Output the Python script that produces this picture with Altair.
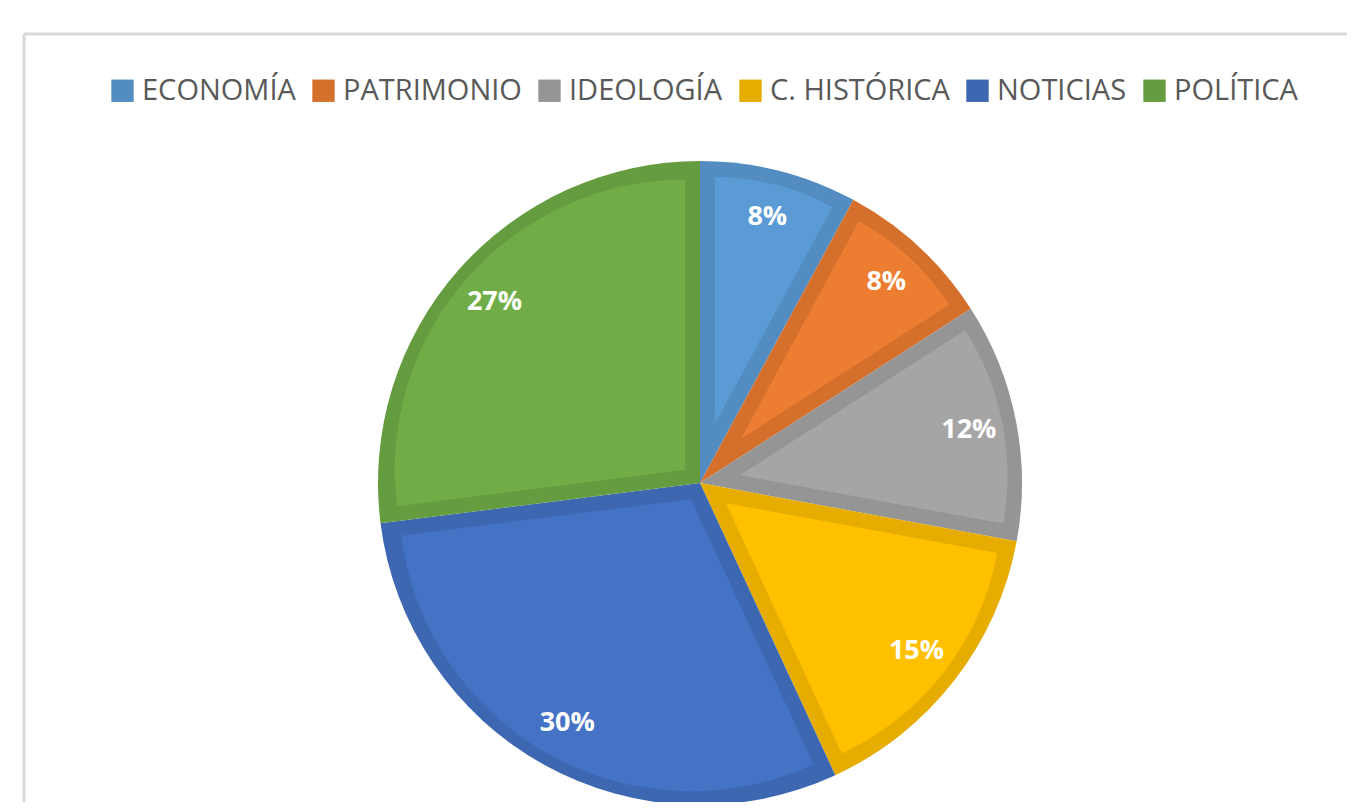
import math
import altair as alt
import pandas as pd

# ---- data ----
categories = ["ECONOMÍA", "PATRIMONIO", "IDEOLOGÍA", "C. HISTÓRICA", "NOTICIAS", "POLÍTICA"]
values = [7.9, 8.0, 12.0, 15.2, 29.9, 27.0]
fill_colors = ["#5B9BD5", "#ED7D31", "#A5A5A5", "#FFC000", "#4472C4", "#70AD47"]
border_colors = ["#528CC0", "#D5702C", "#959595", "#E6AD00", "#3D67B0", "#659C40"]

# ---- layout constants ----
W_CH, H_CH = 1339, 794
CX, CY = 692, 475
R = 322
BW = 15
TWO_PI = 2 * math.pi

df = pd.DataFrame({
    "cat": categories,
    "value": values,
    "order": list(range(len(categories))),
    "light": fill_colors,
})

theta_scale = alt.Scale(domain=[0, 100], range=[0, TWO_PI])

base = alt.Chart(df).transform_window(
    cum="sum(value)", sort=[alt.SortField("order")], frame=[None, 0]
).transform_calculate(
    start="datum.cum - datum.value",
    mid="datum.cum - datum.value / 2",
    label="format(datum.value, '.0f') + '%'",
).transform_calculate(
    ang=f"datum.mid / 100 * {TWO_PI}",
    half="datum.value / 100 * PI",
).transform_calculate(
    d=f"{BW} / sin(datum.half)",
).transform_calculate(
    cx=f"{CX} + datum.d * sin(datum.ang)",
    cy=f"{CY} - datum.d * cos(datum.ang)",
    r2=f"(({R} - {BW} - datum.d) + (sqrt(({R} - {BW}) * ({R} - {BW}) - {BW} * {BW}) - datum.d * cos(datum.half))) / 2",
)

dark = base.mark_arc(outerRadius=R, strokeWidth=0).encode(
    theta=alt.Theta("start:Q", scale=theta_scale, stack=None),
    theta2="cum:Q",
    x=alt.value(CX),
    y=alt.value(CY),
    color=alt.Color(
        "cat:N",
        scale=alt.Scale(domain=categories, range=border_colors),
        legend=alt.Legend(
            title=None,
            orient="none",
            legendX=100,
            legendY=68,
            direction="horizontal",
            symbolType="square",
            symbolSize=500,
            symbolStrokeWidth=0,
            labelFont="Open Sans",
            labelFontSize=29,
            labelColor="#595959",
            labelOffset=5,
            columnPadding=13,
            padding=0,
            labelLimit=400,
        ),
    ),
)

light = base.mark_arc(strokeWidth=0).encode(
    theta=alt.Theta("start:Q", scale=theta_scale, stack=None),
    theta2="cum:Q",
    radius=alt.Radius("r2:Q", scale=None),
    x=alt.X("cx:Q", scale=None, axis=None),
    y=alt.Y("cy:Q", scale=None, axis=None),
    fill=alt.Fill("light:N", scale=None),
)

labels = base.mark_text(
    radius=274, font="Open Sans", fontSize=27, fontWeight="bold",
    color="white", align="center", baseline="middle",
).encode(
    theta=alt.Theta("mid:Q", scale=theta_scale, stack=None),
    x=alt.value(CX),
    y=alt.value(CY),
    text="label:N",
)

frame_df = pd.DataFrame({"k": [0]})
frame_top = alt.Chart(frame_df).mark_rule(color="#D9D9D9", strokeWidth=3).encode(
    x=alt.value(16), x2=alt.value(W_CH), y=alt.value(26)
)
frame_left = alt.Chart(frame_df).mark_rule(color="#D9D9D9", strokeWidth=3).encode(
    x=alt.value(16), y=alt.value(26), y2=alt.value(H_CH)
)

chart = alt.layer(frame_top, frame_left, dark, light, labels).properties(
    width=W_CH, height=H_CH, padding=0,
    autosize=alt.AutoSizeParams(type="none"),
).configure_view(stroke=None)

chart.save("out.html", embed_options={"renderer": "svg", "actions": False})
